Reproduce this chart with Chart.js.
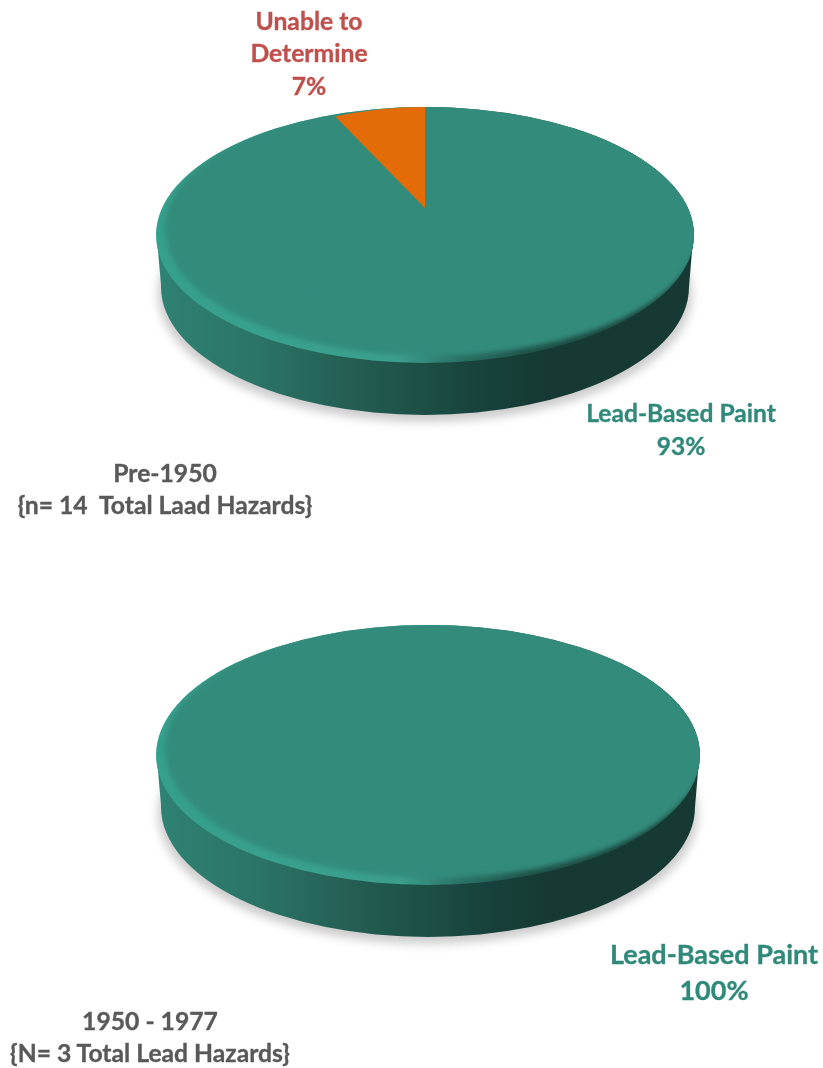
<!DOCTYPE html>
<html><head><meta charset="utf-8">
<script src="https://cdn.jsdelivr.net/npm/chart.js@4"></script>
<style>
html,body{margin:0;padding:0;background:#fff;width:823px;height:1068px;overflow:hidden}
canvas{position:absolute;left:0}
.t{position:absolute;transform:translate(-50%,-50%);white-space:pre;font-family:Lato,sans-serif;font-weight:700;text-align:center;-webkit-text-stroke:0.35px currentColor}
</style></head><body>
<canvas id="c1" style="top:0"></canvas>
<canvas id="c2" style="top:534px"></canvas>
<script>
const categoriesPre1950 = ['Lead-Based Paint', 'Unable to Determine'];
const valuesPre1950 = [93, 7];
const colorsPre1950 = ['#338b7c', '#e36c09'];
const categories1950to1977 = ['Lead-Based Paint'];
const values1950to1977 = [100];
const colors1950to1977 = ['#338b7c'];

const textLabels = [
  {lines:['Unable to','Determine','7%'], x:309, y:[20,52,85], size:24.7, color:'#c0504d'},
  {lines:['Lead-Based Paint','93%'], x:681, y:[412,445], size:24.6, color:'#31897a'},
  {lines:['Pre-1950','{n= 14  Total Laad Hazards}'], x:165, y:[472,504], size:24.7, color:'#595959'},
  {lines:['Lead-Based Paint','100%'], x:714, y:[953,989], size:27, color:'#31897a'},
  {lines:['1950 - 1977','{N= 3 Total Lead Hazards}'], x:150, y:[1020,1052], size:24.7, color:'#595959'}
];
textLabels.forEach(l => l.lines.forEach((s,i) => {
  const d = document.createElement('div');
  d.className = 't'; d.textContent = s;
  d.style.left = l.x+'px'; d.style.top = l.y[i]+'px';
  d.style.fontSize = l.size+'px'; d.style.color = l.color;
  document.body.appendChild(d);
}));

function ell(ctx,x,y,rx,ry){ctx.beginPath();ctx.ellipse(x,y,rx,ry,0,0,Math.PI*2);}
function grad(ctx,x0,x1,stops){
  const g = ctx.createLinearGradient(x0,0,x1,0);
  stops.forEach(s=>g.addColorStop(s[0],s[1]));
  return g;
}
const disc3d = {
  id:'disc3d',
  beforeDatasetsDraw(chart,args,o){
    const ctx = chart.ctx, {cx,cy,rx,ry,depth} = o;
    ctx.save();
    // soft shadow
    ctx.filter = 'blur(5px)';
    ctx.fillStyle = 'rgba(0,0,0,0.20)';
    ell(ctx,cx,cy+depth+7,rx-2,ry); ctx.fill();
    ctx.filter = 'none';
    // side wall
    ctx.fillStyle = grad(ctx,cx-rx,cx+rx,[[0,'#2f8274'],[0.18,'#2b7567'],[0.35,'#255f54'],[0.5,'#1c4f45'],[0.62,'#17403a'],[0.72,'#163a33'],[1,'#163a33']]);
    ctx.beginPath();
    ctx.moveTo(cx-rx+1,cy+4);
    ctx.lineTo(cx-rx+5,cy+depth-2);
    ctx.ellipse(cx,cy+depth,rx-5,ry,0,Math.PI,0,true);
    ctx.lineTo(cx+rx-1,cy+4);
    ctx.closePath(); ctx.fill();
    // bevel rim, clipped so the top edge of the face stays crisp
    ell(ctx,cx,cy,rx,ry); ctx.clip();
    ctx.fillStyle = grad(ctx,cx-rx,cx+rx,[[0,'#35a08c'],[0.3,'#3aa18f'],[0.45,'#3c9f8e'],[0.56,'#2a7366'],[0.68,'#1f5449'],[1,'#183f37']]);
    ctx.fillRect(cx-rx,cy-ry,2*rx,2*ry);
    // top face
    ctx.filter = 'blur(2.5px)';
    ctx.fillStyle = '#338b7c';
    ell(ctx,cx+7.5,cy-6,rx-1.5,ry-1); ctx.fill();
    ctx.restore();
    // map the library's circular arcs onto the foreshortened face
    const a = chart.getDatasetMeta(0).data[0];
    ctx.save();
    ctx.translate(a.x,a.y);
    ctx.scale(o.faceRx/a.outerRadius,o.faceRy/a.outerRadius);
    ctx.translate(-a.x,-a.y);
  },
  afterDatasetsDraw(chart){ chart.ctx.restore(); }
};
function pie(id,labels,values,colors,padding,disc){
  return new Chart(document.getElementById(id),{
    type:'pie',
    data:{labels,datasets:[{data:values,backgroundColor:colors,borderWidth:0,clip:false}]},
    options:{responsive:false,animation:false,layout:{padding},
      plugins:{legend:{display:false},tooltip:{enabled:false},disc3d:disc}},
    plugins:[disc3d]
  });
}
[document.getElementById('c1'),document.getElementById('c2')].forEach(c=>{c.width=823;c.height=534;});
pie('c1',categoriesPre1950,valuesPre1950,colorsPre1950,{left:27,right:0,top:0,bottom:118},
  {cx:425,cy:235,rx:269,ry:128,depth:52,faceRx:211,faceRy:101});
pie('c2',categories1950to1977,values1950to1977,colors1950to1977,{left:41,right:0,top:0,bottom:100},
  {cx:428,cy:221,rx:272,ry:130,depth:52,faceRx:256,faceRy:118});
</script>
</body></html>
